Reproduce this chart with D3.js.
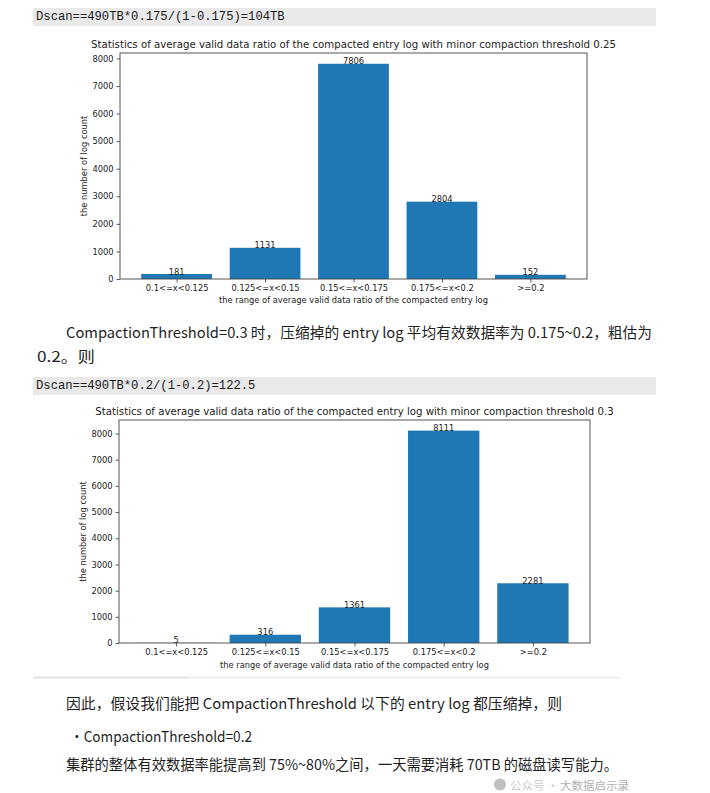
<!DOCTYPE html>
<html>
<head>
<meta charset="utf-8">
<script src="https://cdn.jsdelivr.net/npm/d3@7"></script>
<style>
  html, body { margin: 0; padding: 0; background: #fff; }
  svg { display: block; }
</style>
</head>
<body>
<svg id="page" width="710" height="793"></svg>
<script>
// ---------------- data ----------------
const categories = ["0.1<=x<0.125", "0.125<=x<0.15", "0.15<=x<0.175", "0.175<=x<0.2", ">=0.2"];
const countsThreshold025 = [181, 1131, 7806, 2804, 152];
const countsThreshold03 = [5, 316, 1361, 8111, 2281];
const yTickValues = [0, 1000, 2000, 3000, 4000, 5000, 6000, 7000, 8000];
const title025 = "Statistics of average valid data ratio of the compacted entry log with minor compaction threshold 0.25";
const title03 = "Statistics of average valid data ratio of the compacted entry log with minor compaction threshold 0.3";
const xAxisTitle = "the range of average valid data ratio of the compacted entry log";
const yAxisTitle = "the number of log count";

const svg = d3.select("#page");
svg.append("rect").attr("width", 710).attr("height", 793).attr("fill", "#fff");

const TXT = "#222";
const MPL = "DejaVu Sans, sans-serif";
const CJK = "'Noto Sans CJK SC', sans-serif";
const MONO = "'Liberation Mono', monospace";
const TICK_FS = 8.3;
const TITLE_FS = 10.2;

// ---------------- document text ----------------
function codeBlock(y0, y1, text) {
  svg.append("rect").attr("x", 33).attr("y", y0).attr("width", 623).attr("height", y1 - y0).attr("fill", "#e9e9e9");
  svg.append("text").attr("x", 36).attr("y", (y0 + y1) / 2).attr("dominant-baseline", "central")
    .attr("font-family", MONO).attr("font-size", 12.2).attr("fill", "#1a1a1a").text(text);
}
function para(x, y, x2, text) {
  const t = svg.append("text").attr("x", x).attr("y", y).attr("dominant-baseline", "central")
    .attr("font-family", CJK).attr("font-size", 14.5).attr("fill", "#1f1f1f").text(text);
  if (x2) t.attr("textLength", x2 - x).attr("lengthAdjust", "spacingAndGlyphs");
}

codeBlock(8, 26, "Dscan==490TB*0.175/(1-0.175)=104TB");
para(66, 331, 652, "CompactionThreshold=0.3 时，压缩掉的 entry log 平均有效数据率为 0.175~0.2，粗估为");
para(37, 355, 95, "0.2。则");
codeBlock(377, 395, "Dscan==490TB*0.2/(1-0.2)=122.5");

svg.append("line").attr("x1", 33).attr("x2", 620).attr("y1", 677.5).attr("y2", 677.5).attr("stroke", "#ececec").attr("stroke-width", 1.5);
svg.append("line").attr("x1", 33).attr("x2", 188).attr("y1", 677.5).attr("y2", 677.5).attr("stroke", "#dedede").attr("stroke-width", 1.5);

para(66, 702, 562, "因此，假设我们能把 CompactionThreshold 以下的 entry log 都压缩掉，则");
para(70, 735, 252, "・CompactionThreshold=0.2");
para(66, 763.5, 618, "集群的整体有效数据率能提高到 75%~80%之间，一天需要消耗 70TB 的磁盘读写能力。");

// watermark (kept just below the last line so texts do not collide)
const wm = svg.append("g").attr("opacity", 0.85);
wm.append("circle").attr("cx", 500).attr("cy", 784.5).attr("r", 6).attr("fill", "#b5b5b5");
wm.append("text").attr("x", 510).attr("y", 784.5).attr("dominant-baseline", "central")
  .attr("font-family", CJK).attr("font-size", 11.5).attr("fill", "#c4c4c4").text("公众号 ·");
wm.append("text").attr("x", 560).attr("y", 784.5).attr("dominant-baseline", "central")
  .attr("font-family", CJK).attr("font-size", 11.5).attr("fill", "#a4a4a4").text("大数据启示录");

// ---------------- charts ----------------
function barChart(cfg) {
  const g = svg.append("g");
  const x = d3.scaleLinear().domain([-0.64, categories.length - 1 + 0.64]).range([cfg.left, cfg.right]);
  const yMax = d3.max(cfg.values) * 1.05;
  const y = d3.scaleLinear().domain([0, yMax]).range([cfg.bottom, cfg.top]);
  const half = 0.4;

  g.selectAll("rect.bar").data(cfg.values).join("rect").attr("class", "bar")
    .attr("x", (d, i) => x(i - half))
    .attr("width", (d, i) => x(i + half) - x(i - half))
    .attr("y", d => y(d))
    .attr("height", d => y(0) - y(d))
    .attr("fill", "#1f77b4");

  g.selectAll("text.val").data(cfg.values).join("text").attr("class", "val")
    .attr("x", (d, i) => x(i)).attr("y", d => y(d) + 0.5)
    .attr("text-anchor", "middle")
    .attr("font-family", MPL).attr("font-size", TICK_FS).attr("fill", TXT)
    .text(d => d);

  // y axis
  const yAxis = d3.axisLeft(y).tickValues(yTickValues).tickSize(3.5).tickPadding(3).tickFormat(d3.format("d"));
  const ya = g.append("g").attr("transform", `translate(${cfg.left},0)`).call(yAxis);
  ya.select(".domain").remove();
  ya.selectAll(".tick line").attr("stroke", "#333").attr("stroke-width", 0.8);
  ya.selectAll(".tick text").attr("font-family", MPL).attr("font-size", TICK_FS).attr("fill", TXT);

  // x axis
  const xAxis = d3.axisBottom(x).tickValues(d3.range(categories.length)).tickSize(3.5).tickPadding(3)
    .tickFormat(i => categories[i]);
  const xa = g.append("g").attr("transform", `translate(0,${cfg.bottom})`).call(xAxis);
  xa.select(".domain").remove();
  xa.selectAll(".tick line").attr("stroke", "#333").attr("stroke-width", 0.8);
  xa.selectAll(".tick text").attr("font-family", MPL).attr("font-size", TICK_FS).attr("fill", TXT);

  // frame
  g.append("rect").attr("x", cfg.left).attr("y", cfg.top)
    .attr("width", cfg.right - cfg.left).attr("height", cfg.bottom - cfg.top)
    .attr("fill", "none").attr("stroke", "#444").attr("stroke-width", 0.9);

  // titles
  g.append("text").attr("x", (cfg.left + cfg.right) / 2).attr("y", cfg.titleY)
    .attr("text-anchor", "middle").attr("dominant-baseline", "central")
    .attr("font-family", MPL).attr("font-size", TITLE_FS).attr("fill", TXT).text(cfg.title);
  g.append("text").attr("x", (cfg.left + cfg.right) / 2).attr("y", cfg.xlabelY)
    .attr("text-anchor", "middle").attr("dominant-baseline", "central")
    .attr("font-family", MPL).attr("font-size", TICK_FS).attr("fill", TXT).text(xAxisTitle);
  g.append("text")
    .attr("transform", `translate(${cfg.ylabelX},${(cfg.top + cfg.bottom) / 2}) rotate(-90)`)
    .attr("text-anchor", "middle").attr("dominant-baseline", "central")
    .attr("font-family", MPL).attr("font-size", TICK_FS).attr("fill", TXT).text(yAxisTitle);
}

barChart({ values: countsThreshold025, title: title025, left: 120, right: 587, top: 53, bottom: 279,
  titleY: 44, xlabelY: 300, ylabelX: 84 });
barChart({ values: countsThreshold03, title: title03, left: 119, right: 590, top: 420, bottom: 643,
  titleY: 411, xlabelY: 665, ylabelX: 83 });
</script>
</body>
</html>
